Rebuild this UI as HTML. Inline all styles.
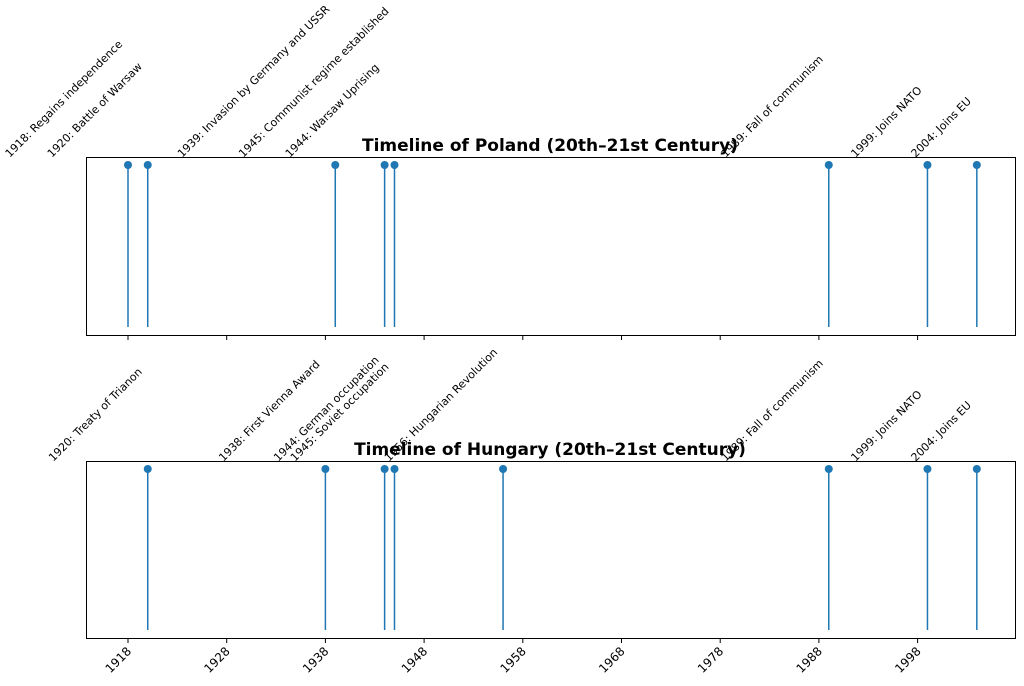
<!DOCTYPE html>
<html><head><meta charset="utf-8"><style>
html,body{margin:0;padding:0;background:#fff}
svg{display:block;font-family:"DejaVu Sans","Liberation Sans",sans-serif}
</style></head><body>
<svg id="c" width="1024" height="686"></svg>
<script>
const polandYears = [1918, 1920, 1939, 1945, 1944, 1989, 1999, 2004];
const polandLabels = ["1918: Regains independence","1920: Battle of Warsaw","1939: Invasion by Germany and USSR","1945: Communist regime established","1944: Warsaw Uprising","1989: Fall of communism","1999: Joins NATO","2004: Joins EU"];
const hungaryYears = [1920, 1938, 1944, 1945, 1956, 1989, 1999, 2004];
const hungaryLabels = ["1920: Treaty of Trianon","1938: First Vienna Award","1944: German occupation","1945: Soviet occupation","1956: Hungarian Revolution","1989: Fall of communism","1999: Joins NATO","2004: Joins EU"];
const tickYears = [1918, 1928, 1938, 1948, 1958, 1968, 1978, 1988, 1998];

const NS = "http://www.w3.org/2000/svg";
const svg = document.getElementById('c');
const X0 = 86, X1 = 1015;
function xs(y){ return 128 + (y - 1918) * 9.87; }
function mk(tag, attrs, parent){ const e = document.createElementNS(NS, tag); for (const k in attrs) e.setAttribute(k, attrs[k]); (parent||svg).appendChild(e); return e; }

function panel(name, years, labels, top, bottom, title, showTicks){
  const g = mk('g', {});
  
  
  const frame = mk('rect', {x:X0+0.5, y:top+0.5, width:X1-X0, height:bottom-top, fill:'none', stroke:'#000', 'stroke-width':1}, g);
  
  
  const t = mk('text', {x:550, y:top-6, 'text-anchor':'middle', 'font-size':'17', 'font-weight':'bold', fill:'#000'}, g);
  t.textContent = title;
  
  
  years.forEach((yr, i) => {
    const x = xs(yr);
    const stem = mk('line', {x1:x, x2:x, y1:top+8, y2:bottom-8, stroke:'#1f77b4', 'stroke-width':1.5}, g);
    
    
    const dot = mk('circle', {cx:x, cy:top+8, r:4, fill:'#1f77b4'}, g);
    
    
    const lb = mk('text', {'font-size':'11', fill:'#000'}, g);
    lb.textContent = labels[i];
    
    
    const L = lb.getComputedTextLength();
    const sx = x - L * 0.7071 - 5, sy = top + 1;
    lb.setAttribute('x', sx); lb.setAttribute('y', sy);
    lb.setAttribute('transform', 'rotate(-45 ' + sx + ' ' + sy + ')');
  });
  if (showTicks) {
    tickYears.forEach(yr => {
      const x = xs(yr);
      const tk = mk('line', {x1:x, x2:x, y1:bottom, y2:bottom+5, stroke:'#000', 'stroke-width':1}, g);
      
      
      const tl = mk('text', {'font-size':'12', fill:'#000', 'text-anchor':'end'}, g);
      tl.textContent = yr;
      
      
      const lx = x + 4, ly = bottom + 14;
      tl.setAttribute('x', lx); tl.setAttribute('y', ly);
      tl.setAttribute('transform', 'rotate(-45 ' + lx + ' ' + ly + ')');
    });
  } else {
    tickYears.forEach(yr => {
      const x = xs(yr);
      const tk = mk('line', {x1:x, x2:x, y1:bottom, y2:bottom+5, stroke:'#000', 'stroke-width':1}, g);
      
      
    });
  }
}
panel('poland', polandYears, polandLabels, 157, 335, 'Timeline of Poland (20th–21st Century)', false);
panel('hungary', hungaryYears, hungaryLabels, 461, 638, 'Timeline of Hungary (20th–21st Century)', true);
</script>
</body></html>
